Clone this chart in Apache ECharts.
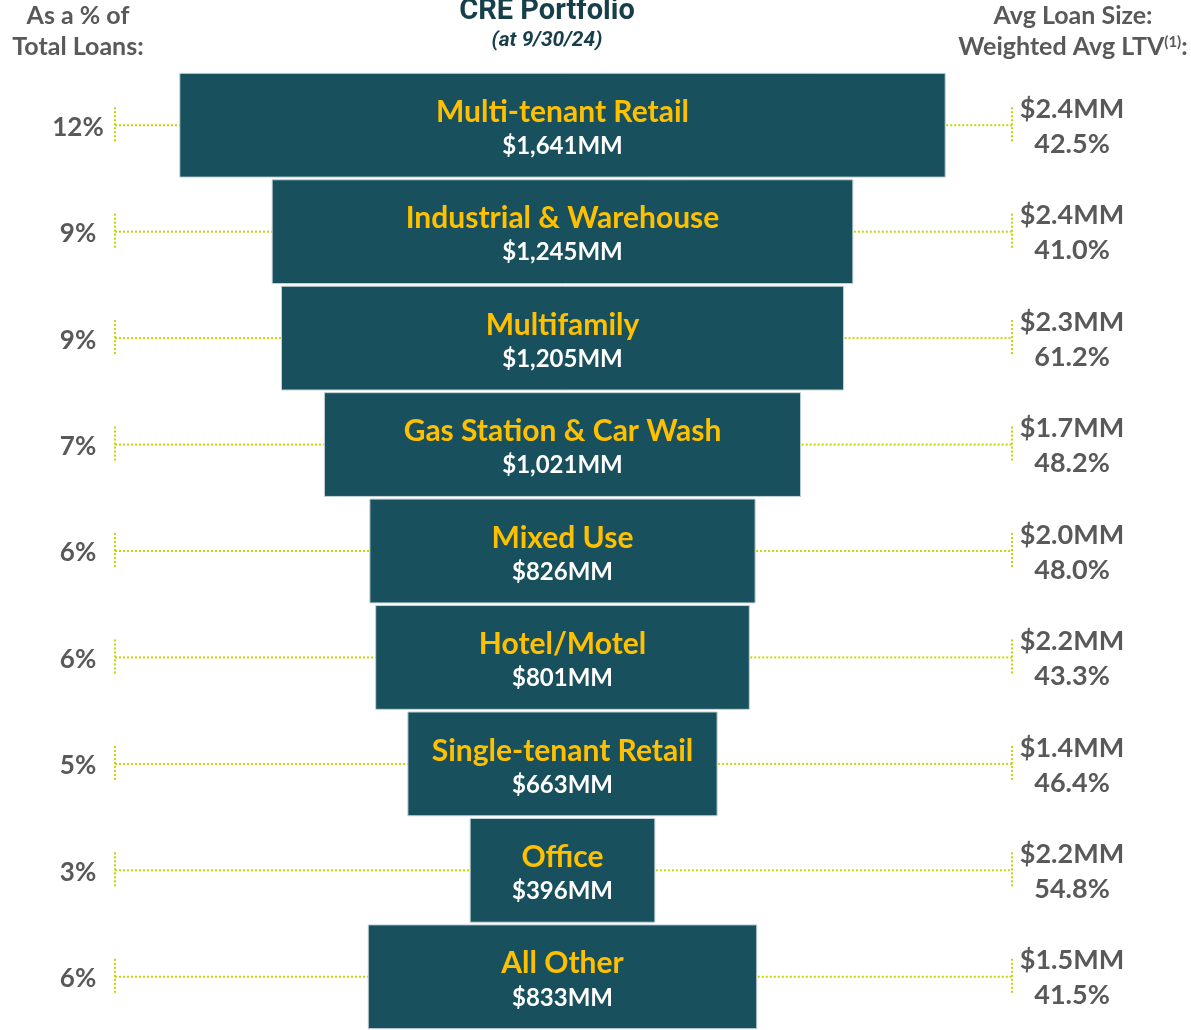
<!DOCTYPE html>
<html><head><meta charset="utf-8">
<script src="https://cdn.jsdelivr.net/npm/echarts@6/dist/echarts.min.js"></script>
<style>html,body{margin:0;padding:0;background:#fff}#c{width:1191px;height:1030px}</style>
</head><body><div id="c"></div>
<script>
const categories = ['Multi-tenant Retail','Industrial & Warehouse','Multifamily','Gas Station & Car Wash','Mixed Use','Hotel/Motel','Single-tenant Retail','Office','All Other'];
const balancesMM = [1641,1245,1205,1021,826,801,663,396,833];
const pctOfTotal = ['12%','9%','9%','7%','6%','6%','5%','3%','6%'];
const avgLoanSize = ['$2.4MM','$2.4MM','$2.3MM','$1.7MM','$2.0MM','$2.2MM','$1.4MM','$2.2MM','$1.5MM'];
const weightedLtv = ['42.5%','41.0%','61.2%','48.2%','48.0%','43.3%','46.4%','54.8%','41.5%'];

const FONT = 'Lato, "Open Sans", sans-serif';
const GRAY = '#595959';
const BAR = '#18505d';
const GOLD = '#ffc000';
const DOT = '#c4d600';

function fmtMM(v){ return '$' + v.toLocaleString('en-US') + 'MM'; }

const chart = echarts.init(document.getElementById('c'), null, {renderer:'canvas'});
chart.setOption({
  animation:false,
  backgroundColor:'#ffffff',
  grid:{left:0, width:1125, top:72, height:965},
  xAxis:{type:'value', min:-1206, max:1206, show:false},
  yAxis:{type:'category', data:categories, inverse:true, show:false},
  graphic:[
    {type:'text', x:78, y:16, style:{text:'As a % of', font:'bold 25px '+FONT, fill:GRAY, align:'center', verticalAlign:'middle'}},
    {type:'text', x:78, y:47, style:{text:'Total Loans:', font:'bold 25px '+FONT, fill:GRAY, align:'center', verticalAlign:'middle'}},
    {type:'text', x:547, y:12, style:{text:'CRE Portfolio', font:'bold 29px Roboto, sans-serif', fill:'#173f4a', align:'center', verticalAlign:'middle'}},
    {type:'text', x:547, y:41, style:{text:'(at 9/30/24)', font:'italic bold 21px Roboto, sans-serif', fill:'#173f4a', align:'center', verticalAlign:'middle'}},
    {type:'text', x:1073, y:16, style:{text:'Avg Loan Size:', font:'bold 25px '+FONT, fill:GRAY, align:'center', verticalAlign:'middle'}},
    {type:'text', x:1073, y:47, style:{text:'Weighted Avg LTV{s|(1)}:', font:'bold 25px '+FONT, fill:GRAY, align:'center', verticalAlign:'middle',
      rich:{s:{font:'bold 15px '+FONT, fill:GRAY, verticalAlign:'top', padding:[0,0,9,0]}}}}
  ],
  series:[{
    type:'custom',
    coordinateSystem:'cartesian2d',
    encode:{x:1, y:0},
    data: balancesMM.map((v,i)=>[i, v]),
    renderItem:function(params, api){
      const i = api.value(0), v = api.value(1);
      const l = api.coord([-v/2, i]);
      const r = api.coord([v/2, i]);
      const cy = l[1];
      const band = api.size([0,1])[1];
      const h = band*0.975;
      const dotStyle = {stroke:DOT, lineWidth:2, lineDash:[2,2], fill:null};
      return {type:'group', children:[
        {type:'line', shape:{x1:115, y1:cy, x2:l[0]+3, y2:cy}, style:dotStyle},
        {type:'line', shape:{x1:115, y1:cy-18, x2:115, y2:cy+18}, style:dotStyle},
        {type:'line', shape:{x1:r[0]-3, y1:cy, x2:1012, y2:cy}, style:dotStyle},
        {type:'line', shape:{x1:1012, y1:cy-18, x2:1012, y2:cy+18}, style:dotStyle},
        {type:'rect', shape:{x:l[0], y:cy-h/2, width:r[0]-l[0], height:h}, style:{fill:BAR, stroke:'#c3d3d8', lineWidth:1}},
        {type:'text', style:{x:(l[0]+r[0])/2, y:cy-13, text:categories[i], font:'bold 30px '+FONT, fill:GOLD, align:'center', verticalAlign:'middle'}},
        {type:'text', style:{x:(l[0]+r[0])/2, y:cy+21, text:fmtMM(v), font:'bold 24px '+FONT, fill:'#ffffff', align:'center', verticalAlign:'middle'}},
        {type:'text', style:{x:78, y:cy+2, text:pctOfTotal[i], font:'bold 26px '+FONT, fill:GRAY, align:'center', verticalAlign:'middle'}},
        {type:'text', style:{x:1072, y:cy-16, text:avgLoanSize[i], font:'bold 27px '+FONT, fill:GRAY, align:'center', verticalAlign:'middle'}},
        {type:'text', style:{x:1072, y:cy+19, text:weightedLtv[i], font:'bold 27px '+FONT, fill:GRAY, align:'center', verticalAlign:'middle'}}
      ]};
    }
  }]
});
</script></body></html>
